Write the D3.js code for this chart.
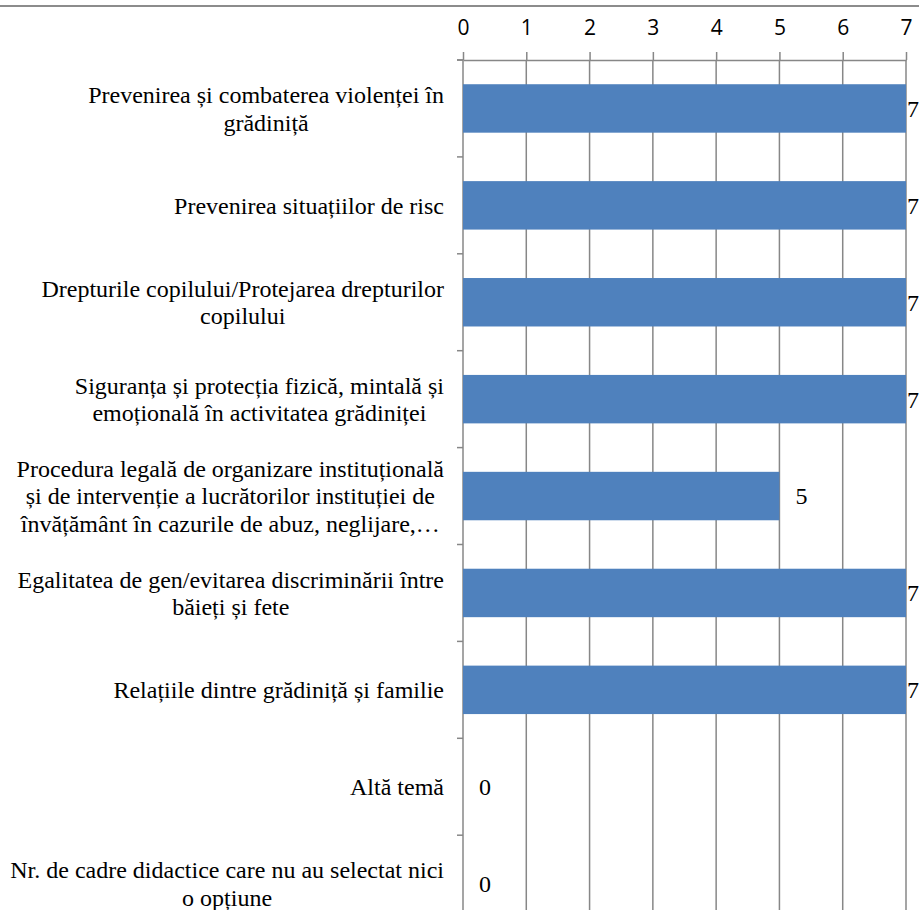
<!DOCTYPE html>
<html><head><meta charset="utf-8">
<script src="https://cdn.jsdelivr.net/npm/d3@7"></script>
<style>
html,body{margin:0;padding:0;background:#fff;overflow:hidden}
.serif{font-family:'Liberation Serif','Times New Roman','DejaVu Serif',serif}
.sans{font-family:'Open Sans','Liberation Sans',sans-serif}
</style>
</head><body>
<svg id="c" width="919" height="910"></svg>
<script>
const categories = [
  "Prevenirea și combaterea violenței în\ngrădiniță",
  "Prevenirea situațiilor de risc",
  "Drepturile copilului/Protejarea drepturilor\ncopilului",
  "Siguranța și protecția fizică, mintală și\nemoțională în activitatea grădiniței",
  "Procedura legală de organizare instituțională\nși de intervenție a lucrătorilor instituției de\nînvățământ în cazurile de abuz, neglijare,…",
  "Egalitatea de gen/evitarea discriminării între\nbăieți și fete",
  "Relațiile dintre grădiniță și familie",
  "Altă temă",
  "Nr. de cadre didactice care nu au selectat nici\no opțiune"
];
const values = [7, 7, 7, 7, 5, 7, 7, 0, 0];
const tickValues = [0, 1, 2, 3, 4, 5, 6, 7];

const svg = d3.select("#c");
const W = 919, H = 910;
const x = d3.scaleLinear().domain([0, 7]).range([463, 906]);
const y = d3.scaleBand().domain(categories).range([60, 60 + 9 * 96.9])
  .paddingInner(0.5).paddingOuter(0.25);
const grid = "#878787";

svg.append("line").attr("x1", 0).attr("x2", W).attr("y1", 6).attr("y2", 6)
  .attr("stroke", "#8c8c8c").attr("stroke-width", 2);

svg.append("g").selectAll("line").data(tickValues).join("line")
  .attr("x1", d => x(d)).attr("x2", d => x(d))
  .attr("y1", 60).attr("y2", H)
  .attr("stroke", grid).attr("stroke-width", 1.5);

const ax = svg.append("g").attr("transform", "translate(0,60)")
  .call(d3.axisTop(x).tickValues(tickValues).tickFormat(d3.format("d"))
    .tickSize(8).tickSizeOuter(0).tickPadding(17));
ax.attr("font-family", null);
ax.select(".domain").attr("stroke", grid).attr("stroke-width", 1.5);
ax.selectAll(".tick line").attr("stroke", grid).attr("stroke-width", 1.5);
ax.selectAll(".tick text").attr("class", "sans")
  .attr("font-size", 21).attr("fill", "#000");
svg.append("line").attr("x1", 457).attr("x2", 463).attr("y1", 60).attr("y2", 60)
  .attr("stroke", grid).attr("stroke-width", 1.5);

const step = y.step();
const bounds = categories.map(c => y(c) - step * 0.25).concat([y(categories[categories.length - 1]) + step * 0.75]);
svg.append("g").selectAll("line").data(bounds).join("line")
  .attr("x1", 457).attr("x2", 463).attr("y1", d => d).attr("y2", d => d)
  .attr("stroke", grid).attr("stroke-width", 1.5);

svg.append("g").selectAll("rect").data(values).join("rect")
  .attr("x", x(0)).attr("y", (d, i) => y(categories[i]))
  .attr("width", d => x(d) - x(0)).attr("height", y.bandwidth())
  .attr("fill", "#4F81BD");

svg.append("g").attr("class", "serif").selectAll("text").data(values).join("text")
  .attr("x", d => Math.min(x(d) + 16, 907))
  .attr("y", (d, i) => y(categories[i]) + y.bandwidth() / 2)
  .attr("dy", "0.35em")
  .attr("font-size", 24).attr("fill", "#000")
  .text(d => d);

const lh = 27.5, right = 444;
const lg = svg.append("g").attr("class", "serif").attr("font-size", 24).attr("fill", "#000");
categories.forEach((c, i) => {
  const lines = c.split("\n");
  const cy = y(c) + y.bandwidth() / 2;
  const t = lg.append("text").attr("text-anchor", "middle");
  lines.forEach((l, j) => {
    t.append("tspan").attr("y", cy + (j - (lines.length - 1) / 2) * lh).attr("dy", "0.35em").text(l);
  });
  let maxW = 0;
  t.selectAll("tspan").each(function () { maxW = Math.max(maxW, this.getComputedTextLength()); });
  t.selectAll("tspan").attr("x", right - maxW / 2);
});
</script>
</body></html>
